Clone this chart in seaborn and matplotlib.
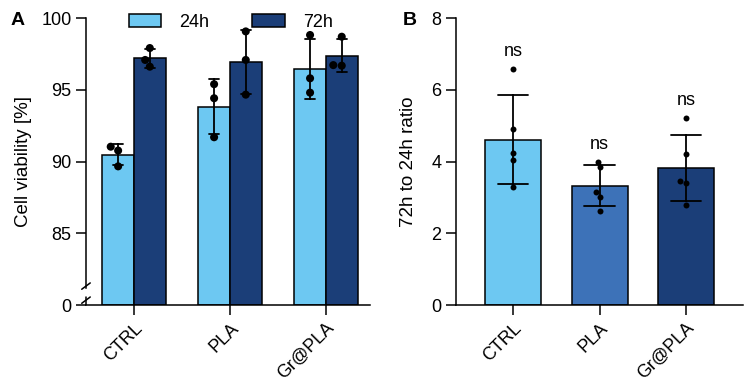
import numpy as np
import pandas as pd
import matplotlib
matplotlib.use("Agg")
import matplotlib.pyplot as plt
import matplotlib.patches as mpatches
import matplotlib.transforms as mtransforms
import seaborn as sns

# data
groups = ["CTRL", "PLA", "Gr@PLA"]
times = ["24h", "72h"]

# panel A: cell viability [%], three replicates per bar
via_ctrl_24 = [91.04, 89.67, 90.77]
via_ctrl_72 = [97.92, 96.62, 97.09]
via_pla_24 = [95.40, 94.42, 91.70]
via_pla_72 = [99.08, 97.09, 94.67]
via_gr_24 = [98.83, 95.81, 94.81]
via_gr_72 = [98.71, 96.69, 96.73]

# panel B: 72h to 24h ratio, five replicates per bar
ratio_ctrl = [6.59, 4.90, 4.25, 4.05, 3.28]
ratio_pla = [4.00, 3.84, 3.16, 3.02, 2.63]
ratio_gr = [5.21, 4.21, 3.46, 3.41, 2.79]

light = "#6DC8F2"
mid = "#3D72B8"
dark = "#1B3E78"

sns.set_style("ticks")
plt.rcParams["font.family"] = ["Liberation Sans", "DejaVu Sans"]
plt.rcParams.update({
    "text.color": "black", "axes.labelcolor": "black",
    "xtick.color": "black", "ytick.color": "black", "axes.edgecolor": "black",
    "axes.linewidth": 1.1,
    "xtick.major.width": 1.1, "ytick.major.width": 1.1,
    "xtick.major.size": 7, "ytick.major.size": 7,
    "xtick.labelsize": 13, "ytick.labelsize": 13,
    "axes.labelsize": 13.5,
})

rows = []
for g, t, vals in [("CTRL", "24h", via_ctrl_24), ("CTRL", "72h", via_ctrl_72),
                   ("PLA", "24h", via_pla_24), ("PLA", "72h", via_pla_72),
                   ("Gr@PLA", "24h", via_gr_24), ("Gr@PLA", "72h", via_gr_72)]:
    for v in vals:
        rows.append({"group": g, "time": t, "value": v})
dfa = pd.DataFrame(rows)

rows = []
for g, vals in zip(groups, [ratio_ctrl, ratio_pla, ratio_gr]):
    for v in vals:
        rows.append({"group": g, "value": v})
dfb = pd.DataFrame(rows)

fig = plt.figure(figsize=(7.49, 3.86), dpi=100)
axA = fig.add_axes([0.1148, 0.2098, 0.379, 0.743])
axB = fig.add_axes([0.6088, 0.2098, 0.383, 0.743])

# broken axis: 0..85 squeezed into one 5-unit step
def fwd(v):
    v = np.asarray(v, dtype=float)
    return np.where(v < 85, v * 5 / 85, v - 80)

def inv(u):
    u = np.asarray(u, dtype=float)
    return np.where(u < 5, u * 85 / 5, u + 80)

axA.set_yscale("function", functions=(fwd, inv))
axA.set_ylim(0, 100)

bar_w = 0.66
pal_a = {"24h": light, "72h": dark}
sns.barplot(data=dfa, x="group", y="value", hue="time", order=groups, hue_order=times,
            palette=pal_a, width=bar_w, errorbar="sd", capsize=0.21,
            err_kws={"color": "black", "linewidth": 1.3},
            edgecolor="black", linewidth=1.1, saturation=1, legend=False, ax=axA)
sns.swarmplot(data=dfa, x="group", y="value", hue="time", order=groups, hue_order=times,
              dodge=True, palette=["black", "black"], size=5.8, legend=False, ax=axA)

# swarmplot dodges with a fixed 0.8 width; draw the points over the bar centres
shift = 0.8 / 4 - bar_w / 4
for coll in axA.collections:
    off = np.asarray(coll.get_offsets(), dtype=float)
    if len(off) == 0:
        continue
    side = np.sign(off[:, 0].mean() - np.round(off[:, 0].mean()))
    coll.set_offset_transform(mtransforms.Affine2D().translate(-side * shift, 0) + axA.transData)

axA.set_ylim(0, 100)
axA.set_xlim(-0.5, 2.458)
axA.set_yticks([0, 85, 90, 95, 100])
axA.yaxis.set_minor_locator(matplotlib.ticker.NullLocator())
axA.yaxis.set_major_formatter(matplotlib.ticker.FormatStrFormatter("%d"))
axA.set_xlabel("")
axA.set_ylabel("Cell viability [%]")
axA.yaxis.set_label_coords(-0.19, 0.5)
sns.despine(ax=axA)
axA.spines["left"].set_bounds(20, 100)
trans = mtransforms.blended_transform_factory(axA.transAxes, axA.transData)
axA.plot([0, 0], [0, 9.5], transform=trans, color="black", lw=1.1, clip_on=False)
for yc in [0.066, 0.017]:
    axA.plot([-0.015, 0.015], [yc - 0.011, yc + 0.011], transform=axA.transAxes,
             color="black", lw=1.1, clip_on=False)
plt.setp(axA.get_xticklabels(), rotation=45, ha="right", rotation_mode="anchor")

handles = [mpatches.Patch(facecolor=pal_a[t], edgecolor="black", linewidth=1.1) for t in times]
axA.legend(handles, times, loc="center", bbox_to_anchor=(0.51, 0.985), ncol=2, frameon=False,
           fontsize=13, handlelength=1.8, handleheight=0.75, columnspacing=2.4,
           handletextpad=1.0)

# panel B
pal_b = dict(zip(groups, [light, mid, dark]))
sns.barplot(data=dfb, x="group", y="value", hue="group", order=groups, palette=pal_b,
            width=0.65, errorbar="sd", capsize=0.35,
            err_kws={"color": "black", "linewidth": 1.3},
            edgecolor="black", linewidth=1.1, saturation=1, legend=False, ax=axB)
sns.swarmplot(data=dfb, x="group", y="value", order=groups, color="black", size=4.3, ax=axB)
for i, vals in enumerate([ratio_ctrl, ratio_pla, ratio_gr]):
    axB.text(i, max(vals) + 0.25, "ns", ha="center", va="bottom", fontsize=13)

axB.set_ylim(0, 8)
axB.set_xlim(-0.664, 2.66)
axB.set_yticks([0, 2, 4, 6, 8])
axB.set_xlabel("")
axB.set_ylabel("72h to 24h ratio")
axB.yaxis.set_label_coords(-0.136, 0.5)
sns.despine(ax=axB)
plt.setp(axB.get_xticklabels(), rotation=45, ha="right", rotation_mode="anchor")

fig.text(0.024, 0.948, "A", fontsize=14, fontweight="bold", ha="center", va="center")
fig.text(0.547, 0.948, "B", fontsize=14, fontweight="bold", ha="center", va="center")

fig.savefig("out.png", dpi=100)
